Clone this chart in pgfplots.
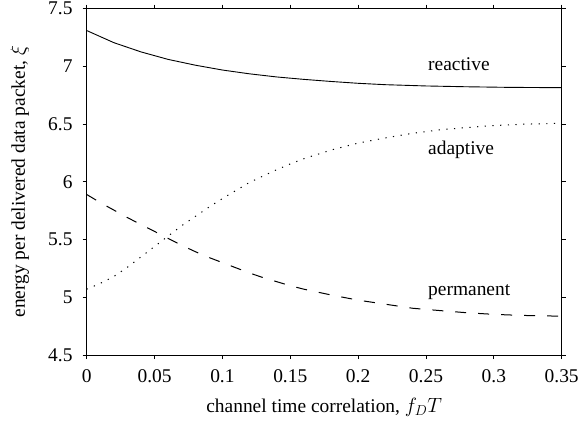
\documentclass[border=0pt]{standalone}
\usepackage{fontspec}
\setmainfont{Liberation Serif}
\usepackage{pgfplots}
\pgfplotsset{compat=1.18}
\usepackage{pgfplotstable}

% energy per delivered packet versus channel time correlation
\pgfplotstableread{
x      y
0.00   7.310
0.02   7.205
0.04   7.125
0.06   7.060
0.08   7.010
0.10   6.968
0.12   6.935
0.14   6.908
0.16   6.887
0.18   6.869
0.20   6.853
0.22   6.841
0.25   6.830
0.28   6.823
0.31   6.818
0.35   6.815
}\reactive

\pgfplotstableread{
x      y
0.00   5.070
0.01   5.120
0.02   5.180
0.03   5.260
0.04   5.350
0.05   5.440
0.06   5.530
0.07   5.620
0.08   5.700
0.09   5.780
0.10   5.855
0.11   5.925
0.12   5.995
0.13   6.050
0.14   6.105
0.15   6.155
0.16   6.200
0.18   6.275
0.20   6.335
0.22   6.380
0.24   6.420
0.26   6.450
0.28   6.470
0.30   6.487
0.32   6.498
0.35   6.508
}\adaptive

\pgfplotstableread{
x      y
0.00   5.890
0.01   5.820
0.02   5.755
0.03   5.690
0.04   5.630
0.05   5.570
0.06   5.510
0.07   5.450
0.08   5.395
0.09   5.345
0.10   5.300
0.11   5.255
0.12   5.210
0.13   5.170
0.14   5.135
0.15   5.100
0.16   5.070
0.18   5.020
0.20   4.975
0.22   4.940
0.24   4.905
0.26   4.885
0.28   4.866
0.30   4.852
0.32   4.843
0.35   4.836
}\permanent

\begin{document}
\fontsize{19.5}{23}\selectfont
\begin{tikzpicture}
\begin{axis}[
  scale only axis,
  width=475bp, height=346.4bp,
  xmin=0, xmax=0.35, ymin=4.5, ymax=7.5,
  xtick={0,0.05,...,0.35},
  ytick={4.5,5,...,7.5},
  xticklabels={0,0.05,0.1,0.15,0.2,0.25,0.3,0.35},
  yticklabels={4.5,5,5.5,6,6.5,7,7.5},
  tick align=outside,
  tick pos=both,
  major tick length=4bp,
  axis line style={line width=0.9bp},
  every tick/.style={black, line width=0.7bp},
  xticklabel style={inner sep=0pt, yshift=-10bp},
  yticklabel style={inner sep=0pt, xshift=-10bp},
  /pgf/number format/assume math mode=true,
  xlabel={channel time correlation, $f_DT$},
  ylabel={energy per delivered data packet, $\xi$},
  xlabel style={at={(axis description cs:0.5,0)}, anchor=base, yshift=-57bp},
  ylabel style={at={(axis description cs:-0.1299,0.5)}, anchor=base, rotate=0},
  clip=false,
]
\addplot[black, line width=0.9bp] table {\reactive};
\addplot[black, line width=1bp, dash pattern=on 1.2bp off 6.5bp] table {\adaptive};
\addplot[black, line width=1bp, dash pattern=on 11bp off 12bp] table {\permanent};
\node[anchor=base west, inner sep=0pt] at (axis cs:0.2515,6.962) {reactive};
\node[anchor=base west, inner sep=0pt] at (axis cs:0.2515,6.240) {adaptive};
\node[anchor=base west, inner sep=0pt] at (axis cs:0.2515,5.018) {permanent};
\end{axis}
\pgfresetboundingbox
\path[use as bounding box] (-86.7bp,-69bp) rectangle (491.3bp,355bp);
\end{tikzpicture}
\end{document}
